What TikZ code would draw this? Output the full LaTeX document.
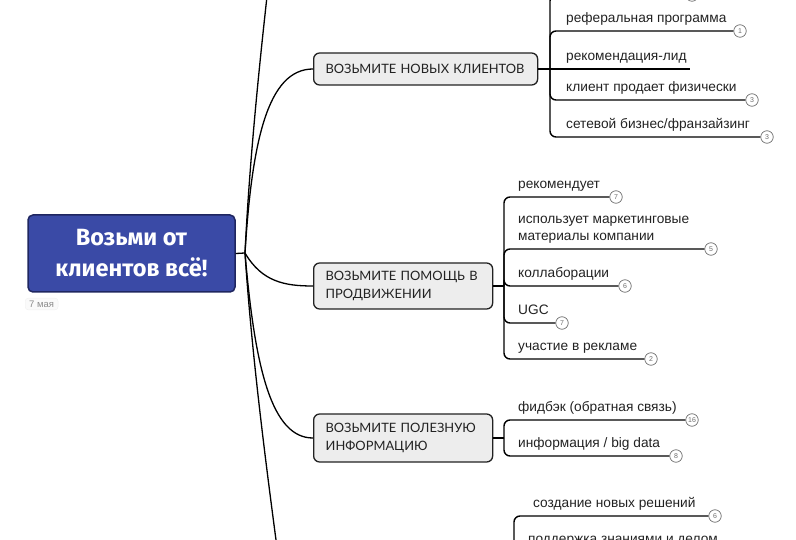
\documentclass[tikz,border=0pt]{standalone}
\usepackage{fontspec}
\setmainfont{Liberation Sans}
\newfontfamily\headfont{Fira Sans}
\newfontfamily\boxfont{Lato}
\usepackage{xcolor}
\definecolor{cRoot}{HTML}{3A4AA6}
\definecolor{cRootLine}{HTML}{1F2660}
\definecolor{cBox}{HTML}{EDEDED}
\definecolor{cInk}{HTML}{222222}
\definecolor{cBadge}{HTML}{6E6E6E}
\usetikzlibrary{positioning,calc}
\tikzset{
  node-root/.style={draw=cRootLine,line width=1.5pt,fill=cRoot,rounded corners=5pt,
    minimum width=207pt,minimum height=77pt,align=center,text=white,
    font=\headfont\bfseries\fontsize{23.5}{31}\selectfont},
  node-date/.style={draw=black!6,fill=black!2,rounded corners=3pt,text=black!45,
    font=\fontsize{9.5}{10}\selectfont,inner xsep=4pt,inner ysep=2.5pt},
  node-box/.style={draw=cInk,line width=1.3pt,fill=cBox,rounded corners=6pt,
    anchor=west,align=left,inner xsep=12pt,text=cInk,
    font=\boxfont\fontsize{12.9}{18}\selectfont},
  node-leaf/.style={anchor=south west,align=left,inner sep=0pt,text depth=3pt,
    text=cInk,font=\fontsize{13.7}{17}\selectfont},
  node-badge/.style={draw=cBadge,fill=white,circle,inner sep=0pt,minimum size=12.5pt,
    line width=0.7pt,text=cBadge,font=\fontsize{7}{7}\selectfont},
  link/.style={draw=black,line width=1.3pt},
  branch/.style={draw=black,line width=1.4pt,rounded corners=6pt},
}

\begin{document}
\begin{tikzpicture}[x=1pt,y=-1pt]
  \useasboundingbox (0,0) rectangle (796,540);
  \clip (0,0) rectangle (796,540);
  % корень
  \node[node-root] (root) at (131.5,253.5) {Возьми от\\клиентов всё!};
  \node[node-date,anchor=north west] (date) at (25,298) {7 мая};
  \coordinate (hub) at (245,253);
  \draw[link] (root.east) -- (hub);

  % ветки первого уровня
  \node[node-box,text width=200pt,minimum height=32pt] (clients) at (313,69) {ВОЗЬМИТЕ НОВЫХ КЛИЕНТОВ};
  \node[node-box,text width=155pt,minimum height=46pt] (promo) at (313,286) {ВОЗЬМИТЕ ПОМОЩЬ В\\ПРОДВИЖЕНИИ};
  \node[node-box,text width=155pt,minimum height=48pt] (info) at (313,438) {ВОЗЬМИТЕ ПОЛЕЗНУЮ\\ИНФОРМАЦИЮ};
  \coordinate (up) at (270,-30);
  \coordinate (down) at (280,570);
  \draw[link] (hub) .. controls (250,150) and (262,40) .. (up);
  \draw[link] (hub) .. controls (252,140) and (268,69) .. (clients.west);
  \draw[link] (hub) .. controls (262,282) and (285,286) .. (promo.west);
  \draw[link] (hub) .. controls (255,370) and (272,438) .. (info.west);
  \draw[link] (hub) .. controls (252,360) and (268,480) .. (down);

  % новые клиенты
  \coordinate (hub-clients) at (550,69);
  \coordinate (lid-end) at (690,69);
  \draw[link] (clients.east) -- (lid-end);
  \node[node-leaf] (lid) at (566,64) {рекомендация-лид};
  \node[node-badge] (cl-top) at (692,-5) {};
  \draw[branch] (hub-clients) |- (cl-top);
  \foreach \id/\y/\txt/\bx/\num in {a/31/реферальная программа/740/1,
      c/100/клиент продает физически/752/3,
      d/137/{сетевой бизнес/франзайзинг}/767/3} {
    \node[node-badge] (cl-\id) at (\bx,\y) {\num};
    \node[node-leaf] (cl-\id-txt) at (566,\y-5) {\txt};
    \draw[branch] (hub-clients) |- (cl-\id);
  }

  % помощь в продвижении
  \coordinate (hub-promo) at (504,286);
  \draw[link] (promo.east) -- (hub-promo);
  \foreach \id/\y/\txt/\bx/\num in {a/197/рекомендует/616/7,
      b/249/{использует маркетинговые\\материалы компании}/711/5,
      c/286/коллаборации/625/6,
      d/323/UGC/562/7,
      e/359/участие в рекламе/651/2} {
    \node[node-badge] (pr-\id) at (\bx,\y) {\num};
    \node[node-leaf] (pr-\id-txt) at (518,\y-5) {\txt};
    \draw[branch] (hub-promo) |- (pr-\id);
  }

  % полезная информация
  \coordinate (hub-info) at (504,438);
  \draw[link] (info.east) -- (hub-info);
  \foreach \id/\y/\txt/\bx/\num in {a/420/фидбэк (обратная связь)/692/16,
      b/456/{информация / big data}/676/8} {
    \node[node-badge] (in-\id) at (\bx,\y) {\num};
    \node[node-leaf] (in-\id-txt) at (518,\y-5) {\txt};
    \draw[branch] (hub-info) |- (in-\id);
  }

  % нижняя ветка (за краем)
  \coordinate (hub-ideas) at (514,600);
  \node[node-badge] (id-a) at (715,516) {6};
  \node[node-leaf] (id-a-txt) at (533,511) {создание новых решений};
  \draw[branch] (hub-ideas) |- (id-a);
  \node[node-leaf] (id-b-txt) at (528,547) {поддержка знаниями и делом};
\end{tikzpicture}
\end{document}
